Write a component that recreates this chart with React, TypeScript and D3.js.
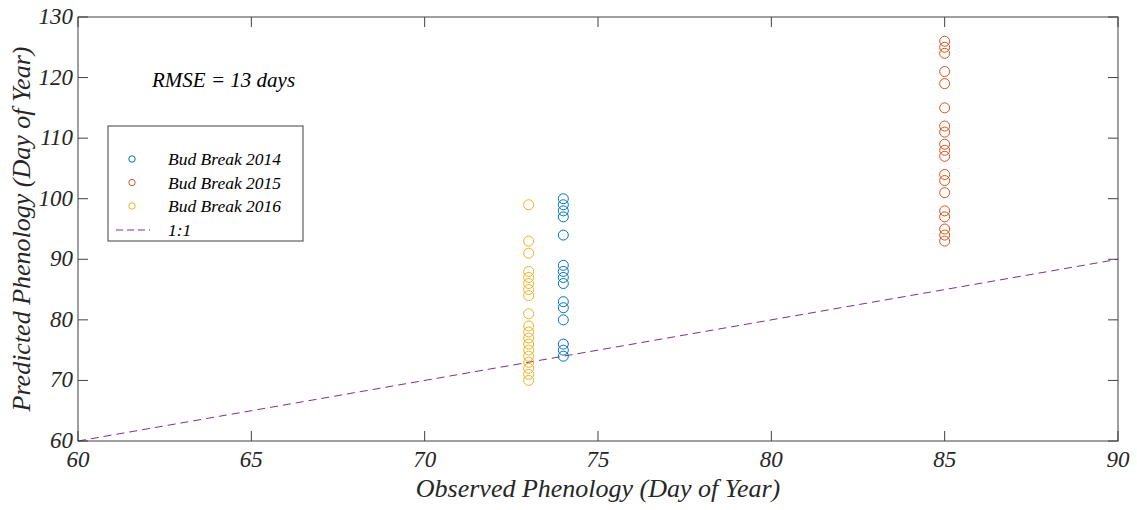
import React from "react";
import * as d3 from "d3";

const obs2014 = 74;
const pred2014 = [100, 99, 98, 97, 94, 89, 88, 87, 86, 83, 82, 80, 76, 75, 74];
const obs2015 = 85;
const pred2015 = [126, 125, 124, 121, 119, 115, 112, 111, 109, 108, 107, 104, 103, 101, 98, 97, 95, 94, 93];
const obs2016 = 73;
const pred2016 = [99, 93, 91, 88, 87, 86, 85, 84, 81, 79, 78, 77, 76, 75, 74, 73, 72, 71, 70];
const xTicks = [60, 65, 70, 75, 80, 85, 90];
const yTicks = [60, 70, 80, 90, 100, 110, 120, 130];
const seriesNames = ["Bud Break 2014", "Bud Break 2015", "Bud Break 2016"];
const colors = ["#0072BD", "#D95319", "#EDB120"];
const lineColor = "#7E2F8E";

export default function App() {
  const W = 1137, H = 510;
  const L = 78, R = 1118, T = 17, B = 441;
  const x = d3.scaleLinear().domain([60, 90]).range([L, R]);
  const y = d3.scaleLinear().domain([60, 130]).range([B, T]);
  const fs = (size: number) => ({ fontFamily: "'Liberation Serif', 'Times New Roman', 'DejaVu Serif', serif", fontStyle: "italic", fontSize: size });
  const series = [
    { obs: obs2014, pred: pred2014 },
    { obs: obs2015, pred: pred2015 },
    { obs: obs2016, pred: pred2016 },
  ];
  const axisColor = "#404040";
  return (
    <svg width={W} height={H} style={{ position: "absolute", left: 0, top: 0, background: "#fff" }}>
      <rect x={0} y={0} width={W} height={H} fill="#fff" />
      <line x1={x(60)} y1={y(60)} x2={x(90)} y2={y(90)} stroke={lineColor} strokeWidth={1} strokeDasharray="8,5" />
      {series.map((s, i) =>
        s.pred.map((p, j) => (
          <circle key={`${i}-${j}`} cx={x(s.obs)} cy={y(p)} r={5} fill="none" stroke={colors[i]} strokeWidth={1} />
        ))
      )}
      <rect x={L} y={T} width={R - L} height={B - T} fill="none" stroke={axisColor} strokeWidth={1} />
      {xTicks.map((t) => (
        <g key={`xt${t}`}>
          <line x1={x(t)} x2={x(t)} y1={B} y2={B - 10} stroke={axisColor} />
          <line x1={x(t)} x2={x(t)} y1={T} y2={T + 10} stroke={axisColor} />
          <text x={x(t)} y={B + 26} textAnchor="middle" style={fs(23)} fill="#262626">{t}</text>
        </g>
      ))}
      {yTicks.map((t) => (
        <g key={`yt${t}`}>
          <line x1={L} x2={L + 10} y1={y(t)} y2={y(t)} stroke={axisColor} />
          <line x1={R} x2={R - 10} y1={y(t)} y2={y(t)} stroke={axisColor} />
          <text x={L - 5} y={y(t) + 7} textAnchor="end" style={fs(23)} fill="#262626">{t}</text>
        </g>
      ))}
      <text x={(L + R) / 2} y={B + 56} textAnchor="middle" style={fs(26)} fill="#262626">Observed Phenology (Day of Year)</text>
      <text transform={`translate(30, ${(T + B) / 2}) rotate(-90)`} textAnchor="middle" style={fs(26)} fill="#262626">Predicted Phenology (Day of Year)</text>
      <text x={152} y={87} style={fs(21)} fill="#000">RMSE = 13 days</text>
      <rect x={108} y={126} width={195} height={115} fill="#fff" stroke={axisColor} strokeWidth={1} />
      {seriesNames.map((n, i) => (
        <g key={n}>
          <circle cx={132} cy={159 + i * 23.5} r={3.2} fill="none" stroke={colors[i]} strokeWidth={1} />
          <text x={168} y={165 + i * 23.5} style={fs(17.5)} fill="#000">{n}</text>
        </g>
      ))}
      <line x1={116} x2={150} y1={230} y2={230} stroke={lineColor} strokeWidth={1} strokeDasharray="7,4" />
      <text x={168} y={236} style={fs(17.5)} fill="#000">1:1</text>
    </svg>
  );
}
